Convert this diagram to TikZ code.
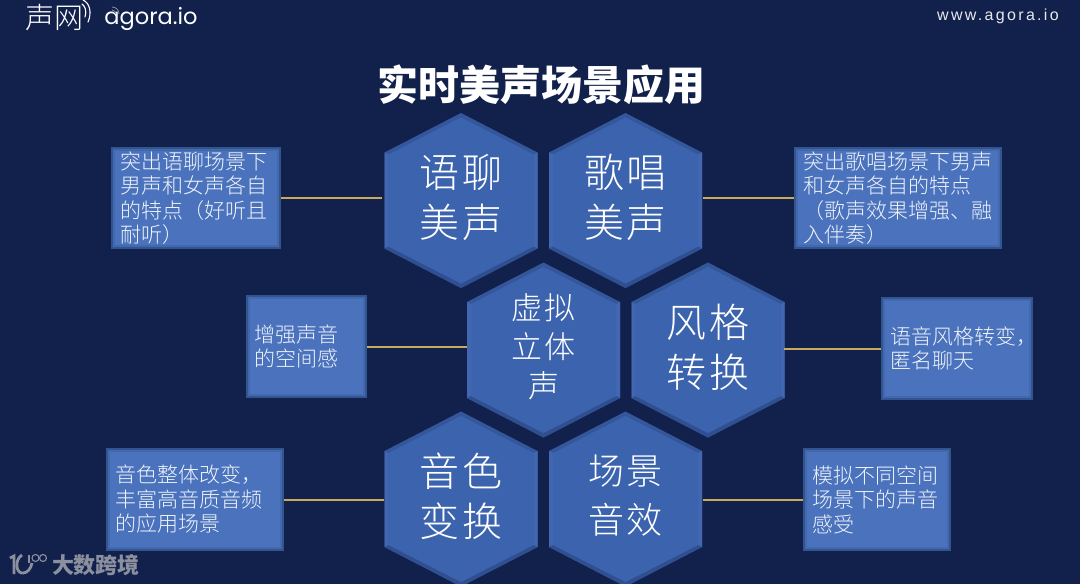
\documentclass[tikz,border=0pt]{standalone}
\usepackage{fontspec}
\setmainfont{Noto Sans CJK SC}
\newfontfamily\lightcjk{Noto Sans CJK SC Light}
\newfontfamily\latinfont{Liberation Sans}[LetterSpace=14.5]
\newfontfamily\logofont{Poppins}
\usetikzlibrary{calc}
\definecolor{bgblue}{HTML}{12214C}
\definecolor{hexmain}{HTML}{3C64AE}
\definecolor{hexedge}{HTML}{34569A}
\definecolor{hexlight}{HTML}{4267B0}
\definecolor{hexdark}{HTML}{2F4F90}
\definecolor{boxmain}{HTML}{4A72BD}
\definecolor{boxedge}{HTML}{33558F}
\definecolor{boxinner}{HTML}{4268AE}
\definecolor{linkgold}{HTML}{C9A95C}
\definecolor{markgrey}{HTML}{8C909E}
\tikzset{
  x=1pt,y=-1pt,
  hextext/.style={text=white,align=center,inner sep=0pt,minimum width=153pt,minimum height=175pt,yshift=3pt},
  descbox/.style={draw=boxedge,line width=2pt,fill=boxmain,inner sep=0pt},
  desctext/.style={text=white!92!boxmain,inner sep=0pt,align=left,font=\lightcjk\fontsize{21}{24.5}\selectfont},
  boxbevel/.style={draw=boxinner,line width=2pt},
  linkline/.style={draw=linkgold,line width=2pt},
}
% #1 name, #2 cx, #3 cy, #4 size, #5 leading, #6 text
\newcommand{\hexa}[6]{%
  \fill[hexedge] (#2,#3-87.5) -- (#2+76.5,#3-48) -- (#2+76.5,#3+48) -- (#2,#3+87.5) -- (#2-76.5,#3+48) -- (#2-76.5,#3-48) -- cycle;
  \fill[hexlight] (#2-76.5,#3-48) -- (#2-72.5,#3-46) -- (#2-72.5,#3+46) -- (#2-76.5,#3+48) -- cycle;
  \fill[hexlight] (#2+76.5,#3-48) -- (#2+72.5,#3-46) -- (#2+72.5,#3+46) -- (#2+76.5,#3+48) -- cycle;
  \fill[hexdark] (#2,#3+87.5) -- (#2+76.5,#3+48) -- (#2+72.5,#3+46) -- (#2,#3+83) -- (#2-72.5,#3+46) -- (#2-76.5,#3+48) -- cycle;
  \fill[hexmain] (#2,#3-83) -- (#2+72.5,#3-46) -- (#2+72.5,#3+46) -- (#2,#3+83) -- (#2-72.5,#3+46) -- (#2-72.5,#3-46) -- cycle;
  \node[hextext,font=\lightcjk\fontsize{#4}{#5}\selectfont\addfontfeature{LetterSpace=7}] (#1) at (#2,#3) {#6};
}
% #1 name, #2 left, #3 top, #4 width, #5 height, #6 text inset, #7 text
\newcommand{\dbox}[7]{%
  \node[descbox,anchor=north west,minimum width=#4pt-2pt,minimum height=#5pt-2pt] (#1) at (#2,#3) {};
  \draw[boxbevel] ($(#1.north west)+(3,3)$) rectangle ($(#1.south east)+(-3,-3)$);
  \node[desctext,anchor=west] at (#2+#6,#3+#5/2) {#7};
}
\begin{document}
\begin{tikzpicture}
\useasboundingbox (0,0) rectangle (1080,584);
\fill[bgblue] (0,0) rectangle (1080,584);
% logos
\node[text=white,inner sep=0pt,font=\lightcjk\fontsize{29}{29}\selectfont] (cnlogo) at (54,18) {声网};
\draw[white,line width=1.1pt,line cap=round] (82,4) .. controls (85,6) and (87,11) .. (85,17);
\draw[white,line width=1.1pt,line cap=round] (83,0) .. controls (90,3) and (92,13) .. (88,22);
\node[text=white,inner sep=0pt,font=\logofont\fontsize{22.5}{22.5}\selectfont] (enlogo) at (151,19) {agora.io};
\draw[markgrey,line width=.8pt] (112,7) .. controls (116,7) and (119,10) .. (119,14);
\draw[markgrey,line width=.8pt] (112,10) .. controls (114,10) and (116,12) .. (116,14);
\node[text=white!90!bgblue,inner sep=0pt,font=\latinfont\fontsize{16}{16}\selectfont] (web) at (998,16) {www.agora.io};
% title
\node[text=white,inner sep=0pt,font=\fontsize{41}{41}\selectfont\bfseries] (title) at (541,85) {实时美声场景应用};
% hexagons
\hexa{h1}{461}{200.5}{40}{50}{语聊\\美声}
\hexa{h2}{625.5}{200.5}{40}{50}{歌唱\\美声}
\hexa{h3}{543.5}{350}{31}{39}{虚拟\\立体\\声}
\hexa{h4}{708}{350}{40}{50}{风格\\转换}
\hexa{h5}{461}{499}{40}{50}{音色\\变换}
\hexa{h6}{625.5}{499}{36}{49}{场景\\音效}
% boxes
\dbox{b1}{111}{147}{170}{102}{9}{突出语聊场景下\\男声和女声各自\\的特点（好听且\\耐听）}
\dbox{b2}{794}{147}{208}{102}{9}{突出歌唱场景下男声\\和女声各自的特点\\（歌声效果增强、融\\入伴奏）}
\dbox{b3}{246}{295}{121}{103}{8}{增强声音\\的空间感}
\dbox{b4}{881}{297}{152}{103}{9}{语音风格转变，\\匿名聊天}
\dbox{b5}{106}{448}{178}{103}{9}{音色整体改变，\\丰富高音质音频\\的应用场景}
\dbox{b6}{803}{448}{148}{103}{9}{模拟不同空间\\场景下的声音\\感受}
% connectors
\draw[linkline,yshift=-1pt,shorten >=2pt] (b1.east) -- (b1.east -| h1.west);
\draw[linkline,yshift=-1pt,shorten >=1pt] (b2.west) -- (b2.west -| h2.east);
\draw[linkline,yshift=-1.5pt] (b3.east) -- (b3.east -| h3.west);
\draw[linkline,yshift=-.5pt,shorten >=-1pt] (b4.west) -- (b4.west -| h4.east);
\draw[linkline,yshift=.5pt] (b5.east) -- (b5.east -| h5.west);
\draw[linkline,yshift=.5pt,shorten >=1pt] (b6.west) -- (b6.west -| h6.east);
% watermark
\node[text=markgrey,inner sep=0pt,font=\fontsize{22}{22}\selectfont\bfseries] (mark) at (96,565) {大数跨境};
\draw[markgrey,line width=2.8pt] (10,558) -- (14,556) -- (14,574);
\draw[markgrey,line width=2.8pt] (22,555) .. controls (14,560) and (16,574) .. (23,573) .. controls (27,573) and (31,569) .. (32,563);
\draw[markgrey,line width=1.1pt] (29,555) -- (29,563);
\draw[markgrey,line width=1.1pt] (35.5,558) circle[radius=3.5];
\draw[markgrey,line width=1.1pt] (43,558) circle[radius=3.5];
\end{tikzpicture}
\end{document}
